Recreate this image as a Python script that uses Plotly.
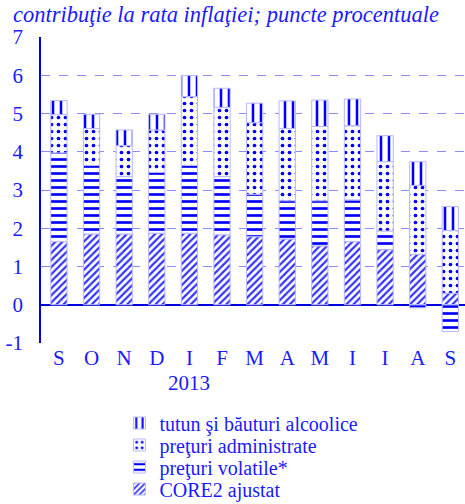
import plotly.graph_objects as go

months = ["S", "O", "N", "D", "I", "F", "M", "A", "M", "I", "I", "A", "S"]
core2 = [1.65, 1.85, 1.85, 1.87, 1.87, 1.83, 1.78, 1.72, 1.54, 1.65, 1.44, 1.32, 0.30]
volatile = [2.32, 1.79, 1.50, 1.59, 1.77, 1.52, 1.11, 1.00, 1.18, 1.09, 0.49, -0.08, -0.70]
admin = [1.00, 0.97, 0.81, 1.11, 1.80, 1.81, 1.87, 1.89, 1.94, 1.94, 1.81, 1.80, 1.64]
tutun = [0.37, 0.37, 0.41, 0.41, 0.55, 0.50, 0.51, 0.72, 0.69, 0.70, 0.68, 0.62, 0.63]
ytick_vals = [-1, 0, 1, 2, 3, 4, 5, 6, 7]
ytick_text = ["-1", "0", "1", "2", "3", "4", "5", "6", "7"]

names = ["CORE2 ajustat", "preţuri volatile*", "preţuri administrate", "tutun şi băuturi alcoolice"]
series = [core2, volatile, admin, tutun]
shapes = ["/", "-", ".", "|"]
sizes = [5, 7, 7, 8]
solid = [0.45, 0.38, 0.22, 0.32]
fgs = ["#3333ff", "#0000ff", "#0000ff", "#0000ff"]
legends = ["legend4", "legend3", "legend2", "legend"]
legend_rows = [423, 445, 467, 489]  # pixel centres, top to bottom

x = list(range(len(months)))
BLUE = "#1a1aff"
FONT = "Liberation Serif, Times New Roman, serif"
fig = go.Figure()
for nm, vals, sh, sz, so, fg, lg in zip(names, series, shapes, sizes, solid, fgs, legends):
    fig.add_trace(go.Bar(
        x=x, y=vals, name=nm, width=0.5, legend=lg,
        marker=dict(color="white", line=dict(color="#b8b8ff", width=1),
                    pattern=dict(shape=sh, fgcolor=fg, fgopacity=1, bgcolor="white",
                                 size=sz, solidity=so)),
    ))

top, bottom = 37, 343
def py2paper(py):
    return (bottom - py) / (bottom - top)

legend_common = dict(x=0.185, xanchor="left", yanchor="middle", itemwidth=30,
                     font=dict(family=FONT, size=20, color=BLUE), bgcolor="rgba(0,0,0,0)")
lay = {}
for name, row in zip(["legend", "legend2", "legend3", "legend4"], legend_rows):
    lay[name] = dict(legend_common, y=py2paper(row))

fig.update_layout(
    width=465, height=504,
    barmode="relative",
    plot_bgcolor="white", paper_bgcolor="white",
    margin=dict(l=41, r=0, t=top, b=504 - bottom, autoexpand=False),
    font=dict(family=FONT, color=BLUE, size=19),
    showlegend=True,
    xaxis=dict(tickmode="array", tickvals=x, ticktext=months, range=[-0.55, 12.45],
               showgrid=False, zeroline=False, showline=False, ticks="",
               tickfont=dict(family=FONT, size=21, color=BLUE)),
    yaxis=dict(range=[-1, 7], tickmode="array", tickvals=ytick_vals, ticktext=ytick_text,
               showgrid=True, gridcolor="#8c8cff",
               griddash="dash", gridwidth=1, zeroline=True, zerolinecolor="#0000dd",
               zerolinewidth=1.5, showline=True, linecolor="#0000dd", linewidth=1.5,
               ticks="", ticklabelstandoff=12,
               tickfont=dict(family=FONT, size=21, color=BLUE)),
    annotations=[
        dict(text="contribuţie la rata inflaţiei; puncte procentuale", xref="paper", yref="paper",
             x=-0.07, y=1.0, xanchor="left", yanchor="bottom", yshift=8, showarrow=False,
             font=dict(family=FONT, size=22.5, color=BLUE, style="italic")),
        dict(text="2013", xref="x", yref="paper", x=4, y=-0.085, xanchor="center", yanchor="top",
             showarrow=False, font=dict(family=FONT, size=21, color=BLUE)),
    ],
    **lay,
)
fig.write_html("out.html", config={"displayModeBar": False},
               post_script="document.body.style.margin='0';")
